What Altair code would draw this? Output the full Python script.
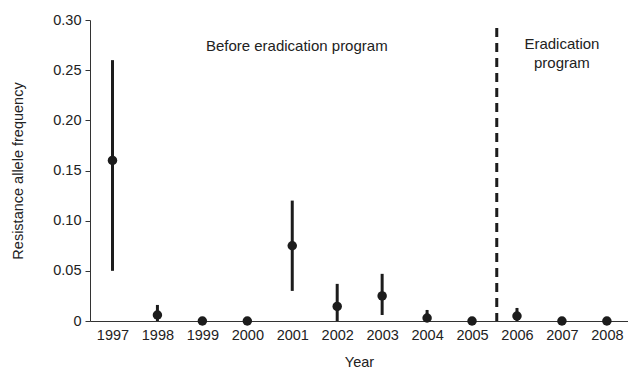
import altair as alt
import pandas as pd

years = [1997, 1998, 1999, 2000, 2001, 2002, 2003, 2004, 2005, 2006, 2007, 2008]
freq = [0.16, 0.006, 0.0, 0.0, 0.075, 0.0145, 0.025, 0.003, 0.0, 0.005, 0.0, 0.0]
lower = [0.05, 0.0, 0.0, 0.0, 0.03, 0.0, 0.006, 0.0, 0.0, 0.0, 0.0, 0.0]
upper = [0.26, 0.016, 0.0, 0.0, 0.12, 0.037, 0.047, 0.011, 0.0, 0.013, 0.0, 0.0]

divider_year = 2005.55
divider_top = 0.292

labels_text = ["Before eradication program", "Eradication", "program"]
labels_x = [2001.1, 2007.0, 2007.0]
labels_y = [0.274, 0.276, 0.257]

df = pd.DataFrame({"Year": years, "freq": freq, "lo": lower, "hi": upper})
div_df = pd.DataFrame({"x": [divider_year], "y0": [0.0], "y1": [divider_top]})
lab_df = pd.DataFrame({"x": labels_x, "y": labels_y, "t": labels_text})

FONT = "Liberation Sans"
INK = "#1c1c1c"

xscale = alt.Scale(domain=[1996.5, 2008.47], nice=False, zero=False)
yscale = alt.Scale(domain=[0, 0.30], nice=False)

base = alt.Chart(df)

err = base.mark_rule(color=INK, strokeWidth=3, clip=False).encode(
    x=alt.X("Year:Q", scale=xscale,
            axis=alt.Axis(values=years, format="d", ticks=False, grid=False,
                          labelFontSize=14.5, labelPadding=7, labelColor="#222",
                          labelFont=FONT, title="Year", titleFont=FONT,
                          titleFontSize=14.5, titleFontWeight="normal",
                          titleColor="#222", titlePadding=14,
                          domainColor="#333", labelOverlap=False)),
    y=alt.Y("lo:Q", scale=yscale,
            axis=alt.Axis(values=[0, 0.05, 0.10, 0.15, 0.20, 0.25, 0.30],
                          labelExpr="datum.value == 0 ? '0' : format(datum.value, '.2f')",
                          grid=False, tickSize=5, tickColor="#333",
                          domainColor="#333", labelFontSize=14.5,
                          labelColor="#222", labelFont=FONT, labelPadding=4,
                          title="Resistance allele frequency", titleFont=FONT,
                          titleFontSize=14.5, titleFontWeight="normal",
                          titleColor="#222", titlePadding=27)),
    y2="hi:Q",
)

pts = base.mark_circle(color=INK, opacity=1, size=90, clip=False).encode(
    x=alt.X("Year:Q", scale=xscale),
    y=alt.Y("freq:Q", scale=yscale),
)

div = alt.Chart(div_df).mark_rule(color=INK, strokeWidth=3, strokeDash=[9, 6]).encode(
    x=alt.X("x:Q", scale=xscale),
    y=alt.Y("y1:Q", scale=yscale),
    y2="y0:Q",
)

txt = alt.Chart(lab_df).mark_text(font=FONT, fontSize=15, color="#222", align="center").encode(
    x=alt.X("x:Q", scale=xscale),
    y=alt.Y("y:Q", scale=yscale),
    text="t:N",
)

chart = alt.layer(err, div, pts, txt).properties(
    width=538, height=301,
    background="white",
    autosize=alt.AutoSizeParams(type="none"),
    padding={"left": 90, "top": 20, "right": 0, "bottom": 54},
).configure_view(stroke=None)

chart.save("out.html", embed_options={"renderer": "svg", "actions": False})
